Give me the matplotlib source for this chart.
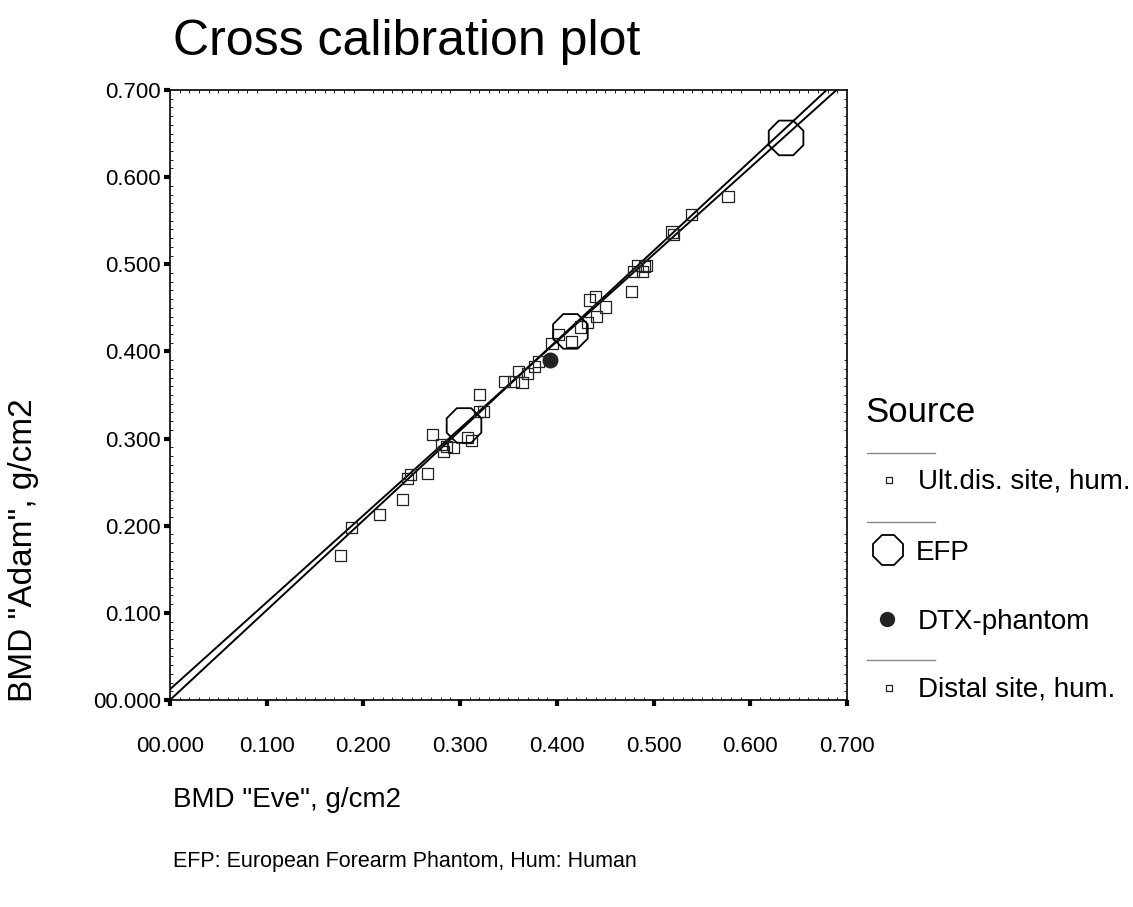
import matplotlib
matplotlib.use("Agg")
import matplotlib.pyplot as plt
from matplotlib.ticker import MultipleLocator, FuncFormatter
import numpy as np

plt.rcParams['font.family'] = ['Liberation Sans', 'DejaVu Sans']

# ---------------- data ----------------
ult_x = [0.176, 0.188, 0.217, 0.240, 0.246, 0.249, 0.266, 0.271, 0.281, 0.283,
         0.286, 0.293, 0.308, 0.312, 0.320, 0.320, 0.324, 0.346, 0.355, 0.360,
         0.364, 0.370]
ult_y = [0.166, 0.198, 0.213, 0.230, 0.254, 0.259, 0.260, 0.305, 0.293, 0.285,
         0.291, 0.290, 0.301, 0.298, 0.351, 0.331, 0.331, 0.365, 0.365, 0.377,
         0.364, 0.375]

distal_x = [0.377, 0.381, 0.395, 0.402, 0.415, 0.424, 0.432, 0.441, 0.434, 0.440,
            0.450, 0.477, 0.479, 0.483, 0.489, 0.493, 0.491, 0.519, 0.521, 0.539,
            0.577]
distal_y = [0.383, 0.388, 0.409, 0.419, 0.411, 0.428, 0.433, 0.440, 0.459, 0.463,
            0.451, 0.469, 0.492, 0.499, 0.492, 0.499, 0.497, 0.537, 0.534, 0.557,
            0.578]

efp_x = [0.304, 0.414, 0.637]
efp_y = [0.315, 0.423, 0.645]

dtx_x = [0.393]
dtx_y = [0.390]

# two calibration lines: intercepts and slopes
line_intercepts = [0.0123, 0.0]
line_slopes = [0.998, 1.031]

xticks = [0.0, 0.1, 0.2, 0.3, 0.4, 0.5, 0.6, 0.7]
yticks = [0.0, 0.1, 0.2, 0.3, 0.4, 0.5, 0.6, 0.7]

# ---------------- figure ----------------
W, H = 1133, 907
fig = plt.figure(figsize=(W / 100, H / 100), dpi=100)
ax = fig.add_axes([170 / W, 1 - 700 / H, 677 / W, 610 / H])

xl = np.array([0.0, 0.7])
for b0, b1 in zip(line_intercepts, line_slopes):
    ax.plot(xl, b0 + b1 * xl, color='black', lw=1.4, zorder=2)

ax.scatter(ult_x, ult_y, marker='s', s=8.0 ** 2, facecolors='none',
           edgecolors='#222222', linewidths=0.9, zorder=3)
ax.scatter(distal_x, distal_y, marker='s', s=8.0 ** 2, facecolors='none',
           edgecolors='#222222', linewidths=0.9, zorder=3)
ax.scatter(efp_x, efp_y, marker='8', s=27 ** 2, facecolors='none',
           edgecolors='black', linewidths=1.3, zorder=4)
ax.scatter(dtx_x, dtx_y, marker='o', s=10.5 ** 2, color='#222222', zorder=5)

ax.set_xlim(0, 0.7)
ax.set_ylim(0, 0.7)
ax.set_xticks(xticks)
ax.set_yticks(yticks)
fmt = FuncFormatter(lambda v, p: '00.000' if abs(v) < 1e-9 else f'{v:.3f}')
ax.xaxis.set_major_formatter(fmt)
ax.yaxis.set_major_formatter(fmt)
ax.xaxis.set_minor_locator(MultipleLocator(0.01))
ax.yaxis.set_minor_locator(MultipleLocator(0.01))
ax.tick_params(axis='both', which='major', length=4, width=3, direction='out',
               labelsize=16, colors='black')
ax.tick_params(axis='x', which='major', pad=22)
ax.tick_params(axis='y', which='major', pad=2.5)
ax.tick_params(axis='both', which='minor', length=2.5, width=0.6, direction='in',
               top=True, right=True)
for s in ax.spines.values():
    s.set_linewidth(1.2)
    s.set_color('black')

# ---------------- texts ----------------
fig.text(173 / W, 1 - 42 / H, 'Cross calibration plot', fontsize=36,
         ha='left', va='center')
fig.text(24 / W, 1 - 550 / H, 'BMD "Adam", g/cm2', fontsize=24, rotation=90,
         ha='center', va='center')
fig.text(173 / W, 1 - 800 / H, 'BMD "Eve", g/cm2', fontsize=20,
         ha='left', va='center')
fig.text(173 / W, 1 - 862 / H, 'EFP: European Forearm Phantom, Hum: Human',
         fontsize=15.5, ha='left', va='center')

# ---------------- legend ----------------
lg = fig.add_axes([0, 0, 1, 1], facecolor='none')
lg.set_xlim(0, W)
lg.set_ylim(H, 0)
lg.axis('off')
lg.text(865, 412, 'Source', fontsize=25, ha='left', va='center')
for yy in [453, 522, 660]:
    lg.plot([867, 935], [yy, yy], color='#888888', lw=1.0)
lg.plot([889], [480], marker='s', ms=5, mfc='none', mec='#222222', mew=0.9)
lg.text(918, 482, 'Ult.dis. site, hum.', fontsize=20, ha='left', va='center')
lg.plot([888], [550], marker='8', ms=24, mfc='none', mec='black', mew=1.3)
lg.text(916, 553, 'EFP', fontsize=20, ha='left', va='center')
lg.plot([887], [619], marker='o', ms=10, color='#222222')
lg.text(918, 622, 'DTX-phantom', fontsize=20, ha='left', va='center')
lg.plot([889], [688], marker='s', ms=5, mfc='none', mec='#222222', mew=0.9)
lg.text(918, 690, 'Distal site, hum.', fontsize=20, ha='left', va='center')

fig.savefig('out.png', dpi=100)
